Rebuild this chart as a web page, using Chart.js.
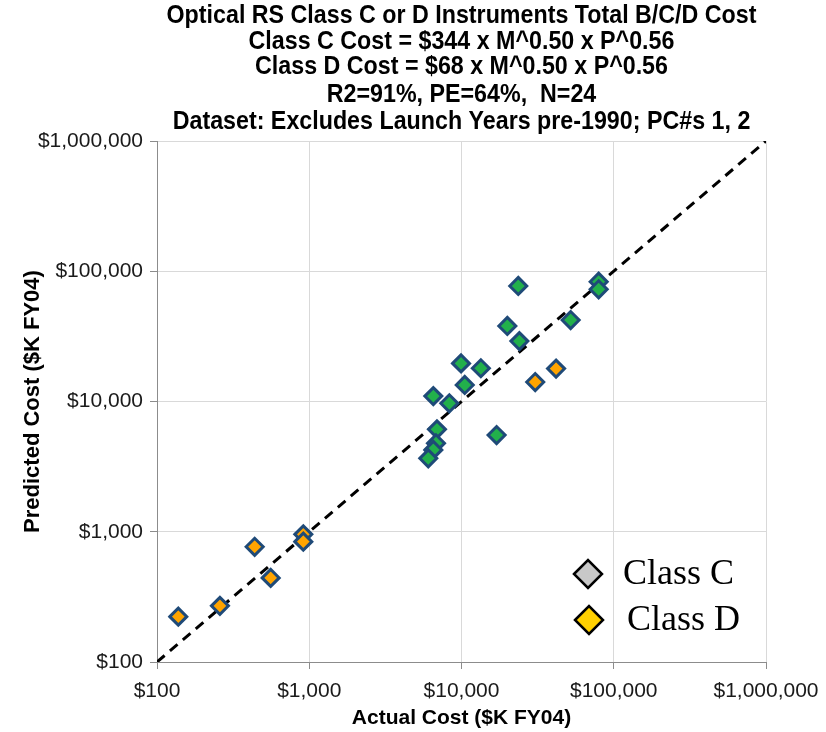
<!DOCTYPE html>
<html><head><meta charset="utf-8">
<script src="https://cdn.jsdelivr.net/npm/chart.js@4/dist/chart.umd.min.js"></script>
<style>html,body{margin:0;padding:0;background:#fff}#wrap{width:826px;height:732px;position:relative}</style>
</head><body><div id="wrap"><canvas id="c" width="826" height="732"></canvas></div>
<script>
const titleLines = [
  'Optical RS Class C or D Instruments Total B/C/D Cost',
  'Class C Cost = $344 x M^0.50 x P^0.56',
  'Class D Cost = $68 x M^0.50 x P^0.56',
  'R2=91%, PE=64%,  N=24',
  'Dataset: Excludes Launch Years pre-1990; PC#s 1, 2'
];
const xAxisTitle = 'Actual Cost ($K FY04)';
const yAxisTitle = 'Predicted Cost ($K FY04)';
const tickValues = [100, 1000, 10000, 100000, 1000000];
const legendLabels = ['Class C', 'Class D'];

const classCActual    = [23600, 79600, 79600, 52100, 20000, 24000, 9930, 13400, 10500, 6530, 8320, 6900, 6800, 6530, 6050, 17000];
const classCPredicted = [77100, 83100, 72700, 42200, 38000, 29100, 19600, 18000, 13400, 11000, 9690, 6110, 4780, 4250, 3660, 5530];
const classDActual    = [41800, 30500, 914, 914, 438, 558, 259, 138];
const classDPredicted = [17900, 14100, 955, 839, 767, 442, 270, 223];
const parityLine = [100, 1000000];

const FONT = '"Liberation Sans", Arial, Helvetica, sans-serif';
const fmt = v => '$' + Number(v).toLocaleString('en-US');

const titlePlugin = {
  id: 'multiTitle',
  afterDraw(chart) {
    const ctx = chart.ctx, ca = chart.chartArea;
    const cx = (ca.left + ca.right) / 2;
    const ys = [16, 42, 67, 95, 122];
    const sx = 0.93;
    ctx.save();
    ctx.fillStyle = '#000';
    ctx.font = 'bold 25px ' + FONT;
    ctx.textAlign = 'center';
    ctx.textBaseline = 'middle';
    ctx.scale(sx, 1);
    titleLines.forEach((t, i) => ctx.fillText(t, cx / sx, ys[i]));
    ctx.restore();
  }
};

function diamond(ctx, x, y, r) {
  ctx.beginPath();
  ctx.moveTo(x - r, y); ctx.lineTo(x, y - r); ctx.lineTo(x + r, y); ctx.lineTo(x, y + r);
  ctx.closePath();
}

const legendPlugin = {
  id: 'customLegend',
  afterDraw(chart) {
    const ctx = chart.ctx;
    const items = [
      {label: legendLabels[0], fill: '#c8c8c8', x: 588, y: 574, tx: 623},
      {label: legendLabels[1], fill: '#ffd000', x: 589, y: 620, tx: 627}
    ];
    ctx.save();
    items.forEach(it => {
      diamond(ctx, it.x, it.y, 14);
      ctx.fillStyle = it.fill; ctx.fill();
      ctx.lineWidth = 2.5; ctx.strokeStyle = '#000'; ctx.lineJoin = 'miter'; ctx.stroke();
      ctx.fillStyle = '#000';
      ctx.font = '36px "Liberation Serif", "Times New Roman", serif';
      ctx.textAlign = 'left'; ctx.textBaseline = 'middle';
      ctx.fillText(it.label, it.tx, it.y + 1);
    });
    ctx.restore();
  }
};

const toPts = (xs, ys) => xs.map((x, i) => ({x: x, y: ys[i]}));

const axisCommon = {
  type: 'logarithmic',
  min: tickValues[0],
  max: tickValues[tickValues.length - 1],
  afterBuildTicks: axis => { axis.ticks = tickValues.map(v => ({value: v})); },
  grid: {color: '#d9d9d9', tickColor: '#8c8c8c', tickLength: 7, lineWidth: 1},
  border: {color: '#8c8c8c', width: 1}
};

new Chart(document.getElementById('c'), {
  type: 'scatter',
  data: {
    datasets: [
      {
        label: 'Class C',
        data: toPts(classCActual, classCPredicted),
        pointStyle: 'rectRot', pointRadius: 8.5, pointHoverRadius: 8.5,
        backgroundColor: '#22b04b', borderColor: '#1f4a78', borderWidth: 3,
        order: 1
      },
      {
        label: 'Class D',
        data: toPts(classDActual, classDPredicted),
        pointStyle: 'rectRot', pointRadius: 8.5, pointHoverRadius: 8.5,
        backgroundColor: '#ffa400', borderColor: '#1f4a78', borderWidth: 3,
        order: 1
      },
      {
        label: 'Parity',
        data: toPts(parityLine, parityLine),
        showLine: true, borderColor: '#000', borderWidth: 3, borderDash: [10, 7],
        pointRadius: 0, fill: false, order: 2
      }
    ]
  },
  options: {
    responsive: false,
    devicePixelRatio: 1,
    animation: false,
    layout: {padding: {top: 141, right: 60, bottom: 0, left: 0}},
    plugins: {legend: {display: false}, tooltip: {enabled: false}, title: {display: false}},
    scales: {
      x: Object.assign({}, axisCommon, {
        position: 'bottom',
        ticks: {callback: fmt, font: {size: 21, family: FONT}, color: '#1a1a1a', padding: 10, maxRotation: 0, autoSkip: false},
        title: {display: true, text: xAxisTitle, color: '#000', font: {size: 21, weight: 'bold', family: FONT}, padding: {top: 0, bottom: 1}},
        afterFit: s => { s.height = 70; s.paddingLeft = 0; s.paddingRight = 0; }
      }),
      y: Object.assign({}, axisCommon, {
        position: 'left',
        ticks: {callback: fmt, font: {size: 21, family: FONT}, color: '#1a1a1a', padding: 7, autoSkip: false},
        title: {display: true, text: yAxisTitle, color: '#000', font: {size: 22, weight: 'bold', family: FONT}, padding: {top: 20, bottom: 0}},
        afterFit: s => { s.width = 157; s.paddingTop = 0; s.paddingBottom = 0; }
      })
    }
  },
  plugins: [titlePlugin, legendPlugin]
});
</script></body></html>
